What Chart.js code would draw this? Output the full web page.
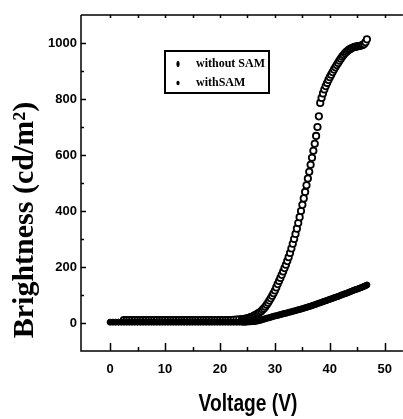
<!DOCTYPE html>
<html>
<head>
<meta charset="utf-8">
<script src="https://cdn.jsdelivr.net/npm/chart.js@4.4.0/dist/chart.umd.min.js"></script>
<style>
  html, body { margin: 0; padding: 0; background: #fff; }
  #wrap { width: 403px; height: 419px; }
</style>
</head>
<body>
<div id="wrap"><canvas id="chart" width="403" height="419"></canvas></div>
<script>
// ---------- DATA ----------
const voltage = [
    0,0.5,1,1.5,2,2.5,3,3.5,4,4.5,5,5.5,6,6.5,7,7.5,8,8.5,9,9.5,
    10,10.5,11,11.5,12,12.5,13,13.5,14,14.5,15,15.5,16,16.5,17,17.5,18,18.5,19,19.5,
    20,20.5,21,21.5,22,22.5,23,23.5,
    24,24.25,24.5,24.75,25,25.25,25.5,25.75,26,26.25,26.5,26.75,27,27.25,27.5,27.75,
    28,28.25,28.5,28.75,29,29.25,29.5,29.75,30,30.25,30.5,30.75,31,31.25,31.5,31.75,
    32,32.25,32.5,32.75,33,33.25,33.5,33.75,34,34.25,34.5,34.75,35,35.25,35.5,35.75,
    36,36.25,36.5,36.75,37,37.25,37.5,37.75,38,38.25,38.5,38.75,39,39.25,39.5,39.75,
    40,40.25,40.5,40.75,41,41.25,41.5,41.75,42,42.25,42.5,42.75,43,43.25,43.5,43.75,
    44,44.25,44.5,44.75,45,45.25,45.5,45.75,46,46.25,46.5,46.75
];

const withoutSAM = [
    null,null,null,null,null,10,10,10,10,10,10,10,10,10,10,10,10,10,10,10,
    10,10,10,10,10,10,10,10,10,10,10,10,10,10,10,10,10,10,10,10,
    10,10,10,10,10,11,12,13,
    14,14,15,16,17,18,20,22,24,26,29,32,35,38,42,47,
    52,58,65,72,80,88,97,106,116,127,139,150,161,172,184,196,
    208,221,235,250,266,283,300,318,337,357,378,400,422,445,468,492,
    516,540,565,590,615,640,668,700,738,786,804,820,834,846,857,868,
    878,887,896,905,913,921,929,937,944,951,957,963,968,972,976,979,
    982,984,986,987,988,989,990,991,993,996,1003,1013
];

const withSAM = [
    3,3,3,3,3,3,3,3,3,3,3,3,3,3,3,3,3,3,3,3,
    3,3,3,3,3,3,3,3,3,3,3,3,3,3,3,3,3,3,3,3,
    3,3,3,3,3,3,3,3,
    3,3,3,3,4,4,4,5,5,5,6,7,8,9,11,12,
    14,15,17,18,19,21,22,24,25,26,27,29,30,31,33,34,
    35,36,38,39,40,42,43,44,46,47,48,50,51,53,54,56,
    57,59,60,62,64,65,67,69,71,72,74,76,78,79,81,83,
    85,86,88,90,92,93,95,97,99,101,103,104,106,108,110,112,
    114,116,118,120,121,123,125,127,129,131,133,136
];

const seriesLabels = ['without SAM', 'withSAM'];
const xMajor = [0, 10, 20, 30, 40, 50];
const xMinor = [5, 15, 25, 35, 45];
const yMajor = [0, 200, 400, 600, 800, 1000];
const yMinor = [100, 300, 500, 700, 900];
const xTitle = 'Voltage (V)';
const yTitle = 'Brightness (cd/m\u00B2)';

const toPoints = vals => voltage.map((v, i) => ({ x: v, y: vals[i] }));

// ---------- FRAME + INWARD TICKS ----------
const framePlugin = {
    id: 'frame',
    afterDatasetsDraw(chart) {
        const { ctx, chartArea: a, scales: { x, y } } = chart;
        ctx.save();
        ctx.strokeStyle = '#000';
        ctx.lineWidth = 1.5;
        ctx.beginPath();
        ctx.moveTo(a.left, a.top); ctx.lineTo(a.right, a.top);
        ctx.moveTo(a.left, a.top); ctx.lineTo(a.left, a.bottom); ctx.lineTo(a.right, a.bottom);
        const xt = (vals, len, topLen) => vals.forEach(v => {
            const px = Math.round(x.getPixelForValue(v)) + 0.5;
            ctx.moveTo(px, a.bottom); ctx.lineTo(px, a.bottom - len);
            ctx.moveTo(px, a.top); ctx.lineTo(px, a.top + topLen);
        });
        const yt = (vals, len) => vals.forEach(v => {
            const py = Math.round(y.getPixelForValue(v)) + 0.5;
            ctx.moveTo(a.left, py); ctx.lineTo(a.left + len, py);
        });
        xt(xMajor, 8, 3);
        xt(xMinor, 4, 3);
        yt(yMajor, 5);
        yt(yMinor, 3);
        ctx.stroke();
        ctx.restore();
    }
};

// ---------- TITLES + LEGEND ----------
const textPlugin = {
    id: 'texts',
    afterDraw(chart) {
        const ctx = chart.ctx;
        ctx.save();
        ctx.fillStyle = '#000';
        ctx.textAlign = 'center';
        ctx.textBaseline = 'middle';

        // x title (condensed look)
        ctx.save();
        ctx.translate(248, 404);
        ctx.scale(0.8, 1);
        ctx.font = 'bold 24px "Liberation Sans", Arial, sans-serif';
        ctx.fillText(xTitle, 0, 0);
        ctx.restore();

        // y title
        ctx.save();
        ctx.translate(25, 220);
        ctx.rotate(-Math.PI / 2);
        ctx.font = 'bold 30px "Liberation Serif", "Times New Roman", serif';
        ctx.fillText(yTitle, 0, 0);
        ctx.restore();

        // legend box
        ctx.strokeStyle = '#000';
        ctx.lineWidth = 2;
        ctx.strokeRect(165, 51, 104, 42);
        ctx.textAlign = 'left';
        ctx.font = 'bold 12px "Liberation Serif", "Times New Roman", serif';
        const rows = [64, 83];
        chart.data.datasets.forEach((ds, i) => {
            ctx.beginPath();
            ctx.ellipse(178, rows[i], 1.6, i === 0 ? 3 : 2.2, 0, 0, Math.PI * 2);
            ctx.fill();
            ctx.fillText(ds.label, 196, rows[i]);
        });
        ctx.restore();
    }
};

// ---------- CHART ----------
new Chart(document.getElementById('chart'), {
    type: 'scatter',
    data: {
        datasets: [
            {
                label: seriesLabels[0],
                data: toPoints(withoutSAM),
                pointRadius: 3.2,
                pointBorderWidth: 1.8,
                pointBorderColor: '#000',
                pointBackgroundColor: '#fff',
                order: 1
            },
            {
                label: seriesLabels[1],
                data: toPoints(withSAM),
                pointRadius: 3,
                pointBorderWidth: 1,
                pointBorderColor: '#000',
                pointBackgroundColor: '#000',
                order: 0
            }
        ]
    },
    options: {
        responsive: false,
        animation: false,
        layout: { autoPadding: false, padding: { top: 15, right: 0, left: 0, bottom: 0 } },
        plugins: { legend: { display: false }, tooltip: { enabled: false } },
        scales: {
            x: {
                type: 'linear',
                min: -5.3,
                max: 53.3,
                grid: { display: false, drawTicks: false },
                border: { display: false },
                afterBuildTicks: s => { s.ticks = xMajor.map(v => ({ value: v })); },
                afterFit: s => { s.height = 68; },
                ticks: {
                    color: '#000',
                    padding: 11,
                    maxRotation: 0,
                    callback: v => String(v),
                    font: { family: '"Liberation Sans", Arial, sans-serif', size: 13, weight: 'bold' }
                }
            },
            y: {
                min: -100,
                max: 1100,
                grid: { display: false, drawTicks: false },
                border: { display: false },
                afterBuildTicks: s => { s.ticks = yMajor.map(v => ({ value: v })); },
                afterFit: s => { s.width = 81; },
                ticks: {
                    color: '#000',
                    padding: 4,
                    callback: v => String(v),
                    font: { family: '"Liberation Sans", Arial, sans-serif', size: 13, weight: 'bold' }
                }
            }
        }
    },
    plugins: [framePlugin, textPlugin]
});
</script>
</body>
</html>
